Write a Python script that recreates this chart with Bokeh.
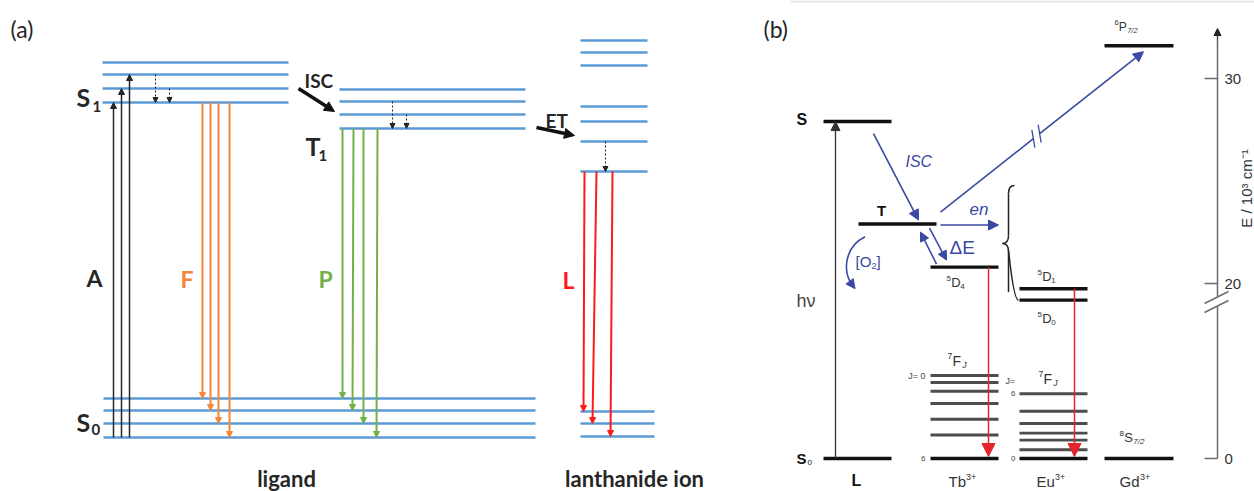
import numpy as np
from bokeh.plotting import figure
from bokeh.models import ColumnDataSource, Arrow, NormalHead
from bokeh.core.properties import value
from bokeh.embed import file_html
from bokeh.resources import INLINE

W, H = 1254, 491

# ---------------- (a) ligand / lanthanide levels (diagram height units) ----------------
s1_levels = [429, 417, 403, 389]
t1_levels = [402, 390, 377, 363]
s0_levels = [93, 81, 68, 54]
ln_excited_levels = [451, 439, 426, 385, 370, 350, 320]
ln_ground_levels = [80, 68, 55]

# ---------------- (b) energies in 10^3 cm^-1 ----------------
E_S = 27.9
E_T = 22.9
E_GD_6P = 31.6
E_TB_5D4 = 20.8
E_EU_5D1 = 19.4
E_EU_5D0 = 18.1
E_GROUND = 0.0
tb_7F = [9.5, 8.7, 7.7, 6.3, 4.5, 2.7, 0.0]   # J = 0 ... 6
eu_7F = [0.0, 1.0, 2.1, 2.9, 4.0, 5.4, 7.4]   # J = 0 ... 6
energy_ticks = [0, 20, 30]

# broken energy scale of panel (b): compressed below 20, expanded above
Y0, Y20, K_LO, K_HI = 33.0, 208.0, 8.75, 20.5


def e2y(e):
    e = np.asarray(e, dtype=float)
    return np.where(e >= 20, Y20 + (e - 20) * K_HI, Y0 + e * K_LO)


def top(py):
    """distance from the top edge -> y coordinate"""
    return H - py


BLUE = "#5B9BD5"
ORANGE = "#F2873A"
GREEN = "#72B04A"
RED = "#FF1A1A"
INK = "#262626"
NAVY = "#3A4AA2"
RED_B = "#E2262C"
GREY = "#4d4d4d"

p = figure(width=W, height=H, x_range=(0, W), y_range=(0, H),
           output_backend="svg", toolbar_location=None, min_border=0)
p.axis.visible = False
p.grid.visible = False
p.outline_line_color = None
p.background_fill_color = "white"


def levels(x0, x1, ys, color, width):
    ys = list(np.atleast_1d(ys))
    p.segment(x0=[x0] * len(ys), x1=[x1] * len(ys), y0=ys, y1=ys,
              line_color=color, line_width=width)


def arrows(xs, ys, xe, ye, color, width, head, dash="solid", head_line=1.0):
    src = ColumnDataSource(dict(x0=list(xs), y0=list(ys), x1=list(xe), y1=list(ye)))
    p.add_layout(Arrow(end=NormalHead(size=head, fill_color=color, line_color=color,
                                      line_width=head_line),
                       source=src, x_start="x0", y_start="y0", x_end="x1", y_end="y1",
                       line_color=color, line_width=width, line_dash=dash))


def txt(x, y, s, size, color=INK, font="Liberation Sans", style="normal",
        align="left", angle=0.0):
    p.text(x=[x], y=[y], text=[s], text_font=value(font), text_font_size=f"{size}px",
           text_font_style=style, text_color=color, text_align=align,
           text_baseline="middle", angle=angle)


def term(x, y, sup, main, sub, size, color="#333", sub_italic=True):
    """spectroscopic term symbol: left superscript, letter, right subscript"""
    small = size * 0.62
    cx = x
    if sup:
        txt(cx, y + size * 0.32, sup, small, color)
        cx += small * 0.58 * len(sup)
    txt(cx, y, main, size, color)
    cx += size * 0.70 * len(main)
    if sub:
        txt(cx, y - size * 0.32, sub, small, color, style="italic" if sub_italic else "normal")


# ======================= panel (a) =======================
levels(102, 288, s1_levels, BLUE, 2.6)
levels(339, 525, t1_levels, BLUE, 2.6)
levels(103, 535, s0_levels, BLUE, 2.6)
levels(580, 647, ln_excited_levels, BLUE, 2.6)
levels(580, 654, ln_ground_levels, BLUE, 2.6)

# absorption (A): lowest S0 level up to the S1 manifold
arrows([113, 121, 129], [s0_levels[-1]] * 3, [113, 121, 129], s1_levels[::-1][:3],
       INK, 1.5, 6)
# fluorescence (F): lowest S1 level to every S0 level
arrows([202, 210, 218, 229], [s1_levels[-1]] * 4, [202, 210, 218, 229], s0_levels,
       ORANGE, 2.0, 6)
# phosphorescence (P): lowest T1 level to every S0 level
arrows([342, 353, 363, 377], [t1_levels[-1]] * 4, [342, 352, 363, 376], s0_levels,
       GREEN, 2.0, 6)
# lanthanide luminescence (L)
arrows([584, 596, 612], [ln_excited_levels[-1]] * 3, [583, 592, 610], ln_ground_levels,
       RED, 2.0, 6)
# vibrational relaxation
arrows([155, 169], [s1_levels[1], s1_levels[2]], [155, 169], [s1_levels[3]] * 2,
       INK, 1.1, 5, dash="2 2")
arrows([392, 406], [t1_levels[1], t1_levels[2]], [392, 406], [t1_levels[3]] * 2,
       INK, 1.1, 5, dash="2 2")
arrows([605], [ln_excited_levels[5]], [605], [ln_excited_levels[6]], INK, 1.1, 5, dash="2 2")
# intersystem crossing and energy transfer
arrows([298], [top(88)], [334], [top(111)], "#111", 3.4, 10)
arrows([536], [top(127)], [574], [top(135)], "#111", 3.4, 10)

LATO = "Lato"
txt(10, top(28), "(a)", 23, INK, LATO)
txt(76, top(96), "S", 25, INK, LATO, "bold")
txt(92, top(106), "1", 15, INK, LATO, "bold")
txt(76, top(421), "S", 25, INK, LATO, "bold")
txt(91, top(429), "0", 15, INK, LATO, "bold")
txt(305, top(145), "T", 25, INK, LATO, "bold")
txt(318, top(155), "1", 15, INK, LATO, "bold")
txt(304, top(80), "ISC", 19, INK, LATO, "bold")
txt(545, top(120), "ET", 19, INK, LATO, "bold")
txt(86, top(277), "A", 23, INK, LATO, "bold")
txt(180, top(278), "F", 23, ORANGE, LATO, "bold")
txt(318, top(278), "P", 23, GREEN, LATO, "bold")
txt(562, top(279), "L", 23, RED, LATO, "bold")
txt(286, top(478), "ligand", 22, INK, LATO, "bold", align="center")
txt(634, top(478), "lanthanide ion", 22, INK, LATO, "bold", align="center")

# ======================= panel (b) =======================
COL_L = (823, 891)
COL_T = (858, 936)
COL_TB = (930, 998)
COL_EU = (1019, 1087)
COL_GD = (1104, 1173)
AXIS_X = 1217

p.segment(x0=[790], x1=[W], y0=[top(1)], y1=[top(1)], line_color="#e6e6e6", line_width=2)

levels(*COL_L, e2y([E_S, E_GROUND]), "#111", 3.4)
levels(*COL_T, e2y(E_T), "#111", 3.4)
levels(*COL_TB, e2y(E_TB_5D4), "#111", 3.4)
levels(*COL_TB, e2y(tb_7F[:-1]), GREY, 3.0)
levels(*COL_TB, e2y(tb_7F[-1]), "#111", 3.6)
levels(*COL_EU, e2y([E_EU_5D1, E_EU_5D0]), "#111", 3.4)
levels(*COL_EU, e2y(eu_7F[1:]), GREY, 2.8)
levels(*COL_EU, e2y(eu_7F[0]), "#111", 3.6)
levels(*COL_GD, e2y([E_GD_6P, E_GROUND]), "#111", 3.4)

yS, yT = float(e2y(E_S)), float(e2y(E_T))
y4, yD1 = float(e2y(E_TB_5D4)), float(e2y(E_EU_5D1))
y6P, yG = float(e2y(E_GD_6P)), float(e2y(E_GROUND))

# excitation hv
arrows([835], [yG], [835], [yS], "#333", 1.3, 9)
# ISC, energy transfer, back transfer
arrows([873], [yS - 12], [918], [yT + 4], NAVY, 1.6, 10)
arrows([998 - 58], [yT - 1], [998], [yT - 1], NAVY, 1.6, 10)
arrows([936, 929], [y4 + 3, yT - 4], [920, 946], [yT - 8, y4 + 7], NAVY, 1.6, 9)

# long transfer to the Gd 6P7/2 level, drawn with a break
x_a, y_a, x_b, y_b = 940.0, yT + 12, 1143.0, y6P - 6
d = np.array([x_b - x_a, y_b - y_a])
u = d / np.hypot(*d)
mid = np.array([1036.0, y_a + (1036.0 - x_a) * d[1] / d[0]])
g1, g2 = mid - 4 * u, mid + 4 * u
p.segment(x0=[x_a], y0=[y_a], x1=[g1[0]], y1=[g1[1]], line_color=NAVY, line_width=1.6)
arrows([g2[0]], [g2[1]], [x_b], [y_b], NAVY, 1.6, 10)
nrm = np.array([-u[1], u[0]])
slash = 0.55 * u + nrm
slash = slash / np.hypot(*slash) * 9
p.segment(x0=[g1[0] - slash[0], g2[0] - slash[0]], y0=[g1[1] - slash[1], g2[1] - slash[1]],
          x1=[g1[0] + slash[0], g2[0] + slash[0]], y1=[g1[1] + slash[1], g2[1] + slash[1]],
          line_color=NAVY, line_width=1.3)

# quenching by oxygen
cx, cy, r, a0, a1 = 879.0, top(266), 33.0, np.radians(116), np.radians(222)
p.arc(x=[cx], y=[cy], radius=r, start_angle=a0, end_angle=a1, direction="anticlock",
      line_color=NAVY, line_width=1.6)
ah = np.radians(211)
arrows([cx + r * np.cos(ah)], [cy + r * np.sin(ah)], [cx + r * np.cos(a1)], [cy + r * np.sin(a1)],
       NAVY, 1.6, 9)

# lanthanide emission
arrows([988, 1074], [y4, yD1], [988, 1074], [yG + 2, yG + 2], RED_B, 1.5, 13)

# brace grouping the accepting levels
bx, btop, btip, bbot = 1008.0, top(185), top(243), float(e2y(E_EU_5D0))
p.bezier(x0=[bx + 6, bx, bx - 6, bx], y0=[btop, btip + 8, btip, btip - 8],
         x1=[bx, bx - 6, bx, bx + 10], y1=[btop - 8, btip, btip - 8, bbot],
         cx0=[bx + 1, bx, bx - 3, bx], cy0=[btop, btip + 2, btip, btip - 2],
         cx1=[bx, bx - 3, bx, bx + 4], cy1=[btop - 5, btip, btip - 2, bbot],
         line_color="#222", line_width=1.5)
p.segment(x0=[bx, bx], x1=[bx, bx], y0=[btop - 8, btip - 8], y1=[btip + 8, bbot + 8],
          line_color="#222", line_width=1.5)

# energy axis with break
tick_y = e2y(energy_ticks)
brk_hi, brk_lo = top(296), top(306)
p.segment(x0=[AXIS_X, AXIS_X], x1=[AXIS_X, AXIS_X], y0=[tick_y[0], brk_hi], y1=[brk_lo, top(34)],
          line_color="#6a6a6a", line_width=1.5)
arrows([AXIS_X], [top(40)], [AXIS_X], [top(28)], "#222", 0.5, 7)
p.segment(x0=[AXIS_X - 13] * 3, x1=[AXIS_X] * 3, y0=list(tick_y), y1=list(tick_y),
          line_color="#6a6a6a", line_width=1.5)
p.segment(x0=[1204, 1204], x1=[1228, 1228], y0=[top(303), top(312)], y1=[top(291), top(300)],
          line_color="#6a6a6a", line_width=1.4)
for t, ty in zip(energy_ticks, tick_y):
    txt(1224, ty, str(t), 15, "#333")
txt(1246, top(188), "E / 10³ cm⁻¹", 15, "#333", align="center", angle=np.pi / 2)

# labels
txt(763, top(28), "(b)", 23, INK, LATO)
txt(796, top(119), "S", 16, "#111", style="bold")
txt(881, top(210), "T", 15, "#111", style="bold", align="center")
txt(796, top(300), "hν", 18, "#444")
txt(796, top(458), "S", 15, "#111", style="bold")
txt(807, top(462), "0", 8, "#111")
txt(856, top(480), "L", 16, "#111", style="bold", align="center")
txt(905, top(161), "ISC", 16, NAVY, style="italic")
txt(969, top(209), "en", 17, NAVY, style="italic")
txt(949, top(247), "ΔE", 19, NAVY)
txt(855, top(261), "[O", 15, NAVY)
txt(871, top(265), "2", 9, NAVY)
txt(876, top(261), "]", 15, NAVY)

term(946, top(282), "5", "D", "4", 13, sub_italic=False)
term(1037, top(276), "5", "D", "1", 13, sub_italic=False)
term(1037, top(318), "5", "D", "0", 13, sub_italic=False)
term(947, top(360), "7", "F", "J", 14)
term(1038, top(378), "7", "F", "J", 14)
term(1119, top(437), "8", "S", "7/2", 13)
term(1114, top(26), "6", "P", "7/2", 12)

txt(925, top(375), "J= 0", 9, "#444", align="right")
txt(925, float(e2y(tb_7F[-1])), "6", 8, "#444", align="right")
txt(1005, top(380), "J=", 9, "#444")
txt(1015, float(e2y(eu_7F[-1])), "6", 8, "#444", align="right")
txt(1015, float(e2y(eu_7F[0])), "0", 8, "#444", align="right")

for x0, ion, w in [(948, "Tb", 17.5), (1036, "Eu", 18.5), (1119, "Gd", 20.5)]:
    txt(x0, top(481), ion, 15, "#333")
    txt(x0 + w, top(476), "3+", 9, "#333")

open("out.html", "w").write(file_html(p, INLINE))
